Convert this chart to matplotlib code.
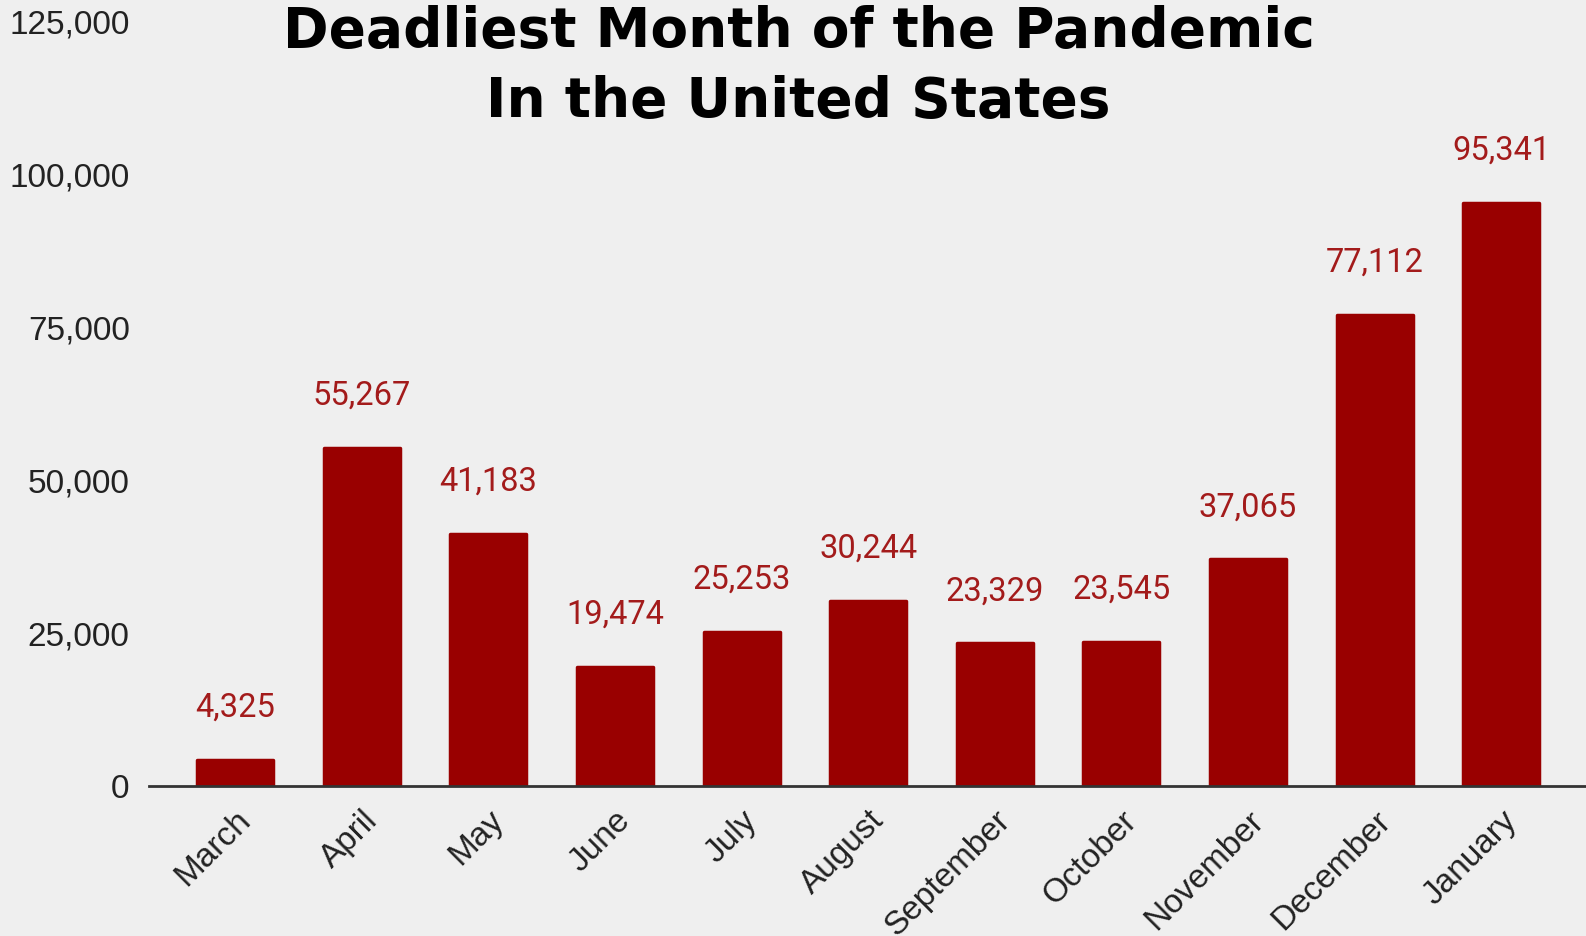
import matplotlib
matplotlib.use("Agg")
import matplotlib.pyplot as plt
import matplotlib.transforms as mtransforms

months = ["March", "April", "May", "June", "July", "August",
          "September", "October", "November", "December", "January"]
deaths = [4325, 55267, 41183, 19474, 25253, 30244, 23329, 23545, 37065, 77112, 95341]
yticks = [0, 25000, 50000, 75000, 100000, 125000]
title_lines = ["Deadliest Month of the Pandemic", "In the United States"]

bg = "#efefef"
bar_color = "#990000"
label_color = "#a31b1b"

fig = plt.figure(figsize=(15.86, 9.36), dpi=100, facecolor=bg)
ax = fig.add_axes([0.094, 0.1603, 0.906, 0.8162], facecolor=bg)

x = list(range(len(months)))
ax.bar(x, deaths, width=0.6, color=bar_color, edgecolor=bar_color,
       linewidth=2.5, joinstyle="round", zorder=2)

for xi, v in zip(x, deaths):
    ax.annotate(f"{v:,}", (xi, v), xytext=(0, 26), textcoords="offset points",
                ha="center", va="bottom", fontsize=23.5, color=label_color,
                family="Roboto")

ax.set_xlim(-0.68, 10.67)
ax.set_ylim(0, 125000)
ax.set_yticks(yticks)
ax.set_yticklabels([f"{t:,}" for t in yticks], family="Liberation Sans",
                   fontsize=24, color="#222222")
ax.set_xticks(x)
ax.set_xticklabels(months, rotation=45, ha="right", va="center",
                   rotation_mode="anchor", family="Liberation Sans",
                   fontsize=24, color="#222222")

ax.tick_params(axis="both", length=0)
ax.tick_params(axis="y", pad=14)
for s in ["top", "right", "left"]:
    ax.spines[s].set_visible(False)
ax.spines["bottom"].set_color("#333333")
ax.spines["bottom"].set_linewidth(2)
ax.spines["bottom"].set_zorder(3)

# shift rotated month labels (after tick_params, which resets transforms)
offset = mtransforms.ScaledTranslation(11 / 100, -25 / 100, fig.dpi_scale_trans)
for lab in ax.get_xticklabels():
    lab.set_transform(lab.get_transform() + offset)

# title: size the wide bold font so the first line spans ~1031 px
t1 = fig.text(0.5035, 1 - 47 / 936, title_lines[0], ha="center", va="baseline",
              fontsize=40, fontweight="bold", family="DejaVu Sans", color="black")
renderer = fig.canvas.get_renderer()
w = t1.get_window_extent(renderer).width
size = 40 * 1031 / w
t1.set_fontsize(size)
fig.text(0.503, 1 - 117 / 936, title_lines[1], ha="center", va="baseline",
         fontsize=size, fontweight="bold", family="DejaVu Sans", color="black")

fig.savefig("out.png", dpi=100, facecolor=bg)
